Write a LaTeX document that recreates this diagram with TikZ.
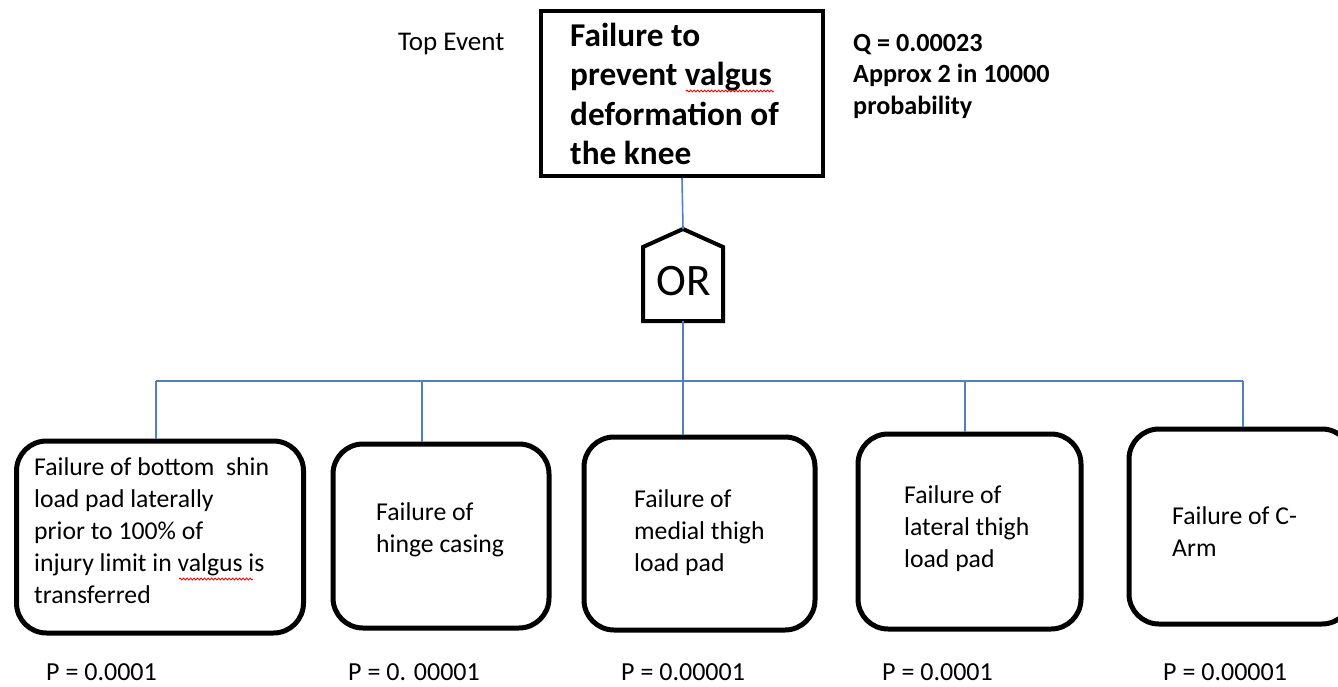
\documentclass[tikz,border=0pt]{standalone}
\usepackage{fontspec}
\setmainfont{Carlito}
\usetikzlibrary{decorations.pathmorphing}
\definecolor{linkblue}{RGB}{79,129,189}
\begin{document}
\begin{tikzpicture}[x=1pt,y=-1pt,
  conn/.style={draw=linkblue,line width=1.6pt},
  evbox/.style={draw,line width=5pt,rounded corners=30pt,inner sep=0pt},
  evtext/.style={anchor=west,align=left,inner sep=0pt,font=\fontsize{25.7}{32}\selectfont},
  plabel/.style={anchor=west,inner sep=0pt,font=\fontsize{26}{31}\selectfont},
  squig/.style={draw=red,line width=0.8pt,decorate,decoration={snake,amplitude=1pt,segment length=3.5pt}}]
\clip (0,0) rectangle (1338,687);
\fill[white] (0,0) rectangle (1338,687);

% top event
\node[draw,line width=4pt,minimum width=282pt,minimum height=165pt,inner sep=0pt] (top) at (682,93.5) {};
\node[anchor=west,align=left,inner sep=0pt,font=\fontsize{33.3}{39.5}\selectfont\bfseries] (toptext) at (570,94)
  {Failure to\\prevent valgus\\deformation of\\the knee};
\node[anchor=west,inner sep=0pt,font=\fontsize{27}{31}\selectfont] (toplabel) at (398,44) {Top Event};
\node[anchor=west,align=left,inner sep=0pt,font=\fontsize{26.2}{31.5}\selectfont\bfseries] (qtext) at (853,76)
  {Q = 0.00023\\Approx 2 in 10000\\probability};

% OR gate
\coordinate (gtop) at (683,229);
\coordinate (gbot) at (683,321);
\draw[line width=4pt,line join=miter] (gtop) -- (723,247) -- (723,321) -- (643,321) -- (643,247) -- cycle;
\node[inner sep=0pt,font=\fontsize{45}{50}\selectfont] (gate) at (684,281) {OR};

% basic events
\node[evbox,minimum width=287pt,minimum height=192pt] (b1) at (160,537) {};
\node[evbox,minimum width=216pt,minimum height=184pt] (b2) at (441,536) {};
\node[evbox,minimum width=231pt,minimum height=193pt] (b3) at (699.5,533.5) {};
\node[evbox,minimum width=223pt,minimum height=195pt] (b4) at (969.5,531.5) {};
\node[evbox,minimum width=223pt,minimum height=195pt] (b5) at (1240.5,526.5) {};

\node[evtext] (t1) at (34,531) {Failure of bottom\ \ shin\\load pad laterally\\prior to 100\% of\\injury limit in valgus is\\transferred};
\node[evtext] (t2) at (376,530) {Failure of\\hinge casing};
\node[evtext] (t3) at (634,533) {Failure of\\medial thigh\\load pad};
\node[evtext] (t4) at (904,529) {Failure of\\lateral thigh\\load pad};
\node[evtext] (t5) at (1172,532) {Failure of C-\\Arm};

\node[plabel] (p1) at (46,672) {P = 0.0001};
\node[plabel] (p2) at (348,672) {P = 0. 00001};
\node[plabel] (p3) at (621,672) {P = 0.00001};
\node[plabel] (p4) at (882,672) {P = 0.0001};
\node[plabel] (p5) at (1163,672) {P = 0.00001};

% connectors
\coordinate (bus) at (683,381);
\coordinate (d1) at (156,381);
\coordinate (d2) at (422,381);
\coordinate (d3) at (683,381);
\coordinate (d4) at (965,381);
\coordinate (d5) at (1243,381);
\draw[conn] (top.south) -- (gtop);
\draw[conn] (gbot) -- (bus);
\draw[conn] (d1) -- (d5);
\draw[conn] (d1) -- (d1 |- b1.north);
\draw[conn] (d2) -- (d2 |- b2.north);
\draw[conn] (d3) -- (d3 |- b3.north);
\draw[conn] (d4) -- (d4 |- b4.north);
\draw[conn] (d5) -- (d5 |- b5.north);

% spell-check underlines
\draw[squig] (686,91) -- (774,91);
\draw[squig] (179,579) -- (253,579);
\end{tikzpicture}
\end{document}
